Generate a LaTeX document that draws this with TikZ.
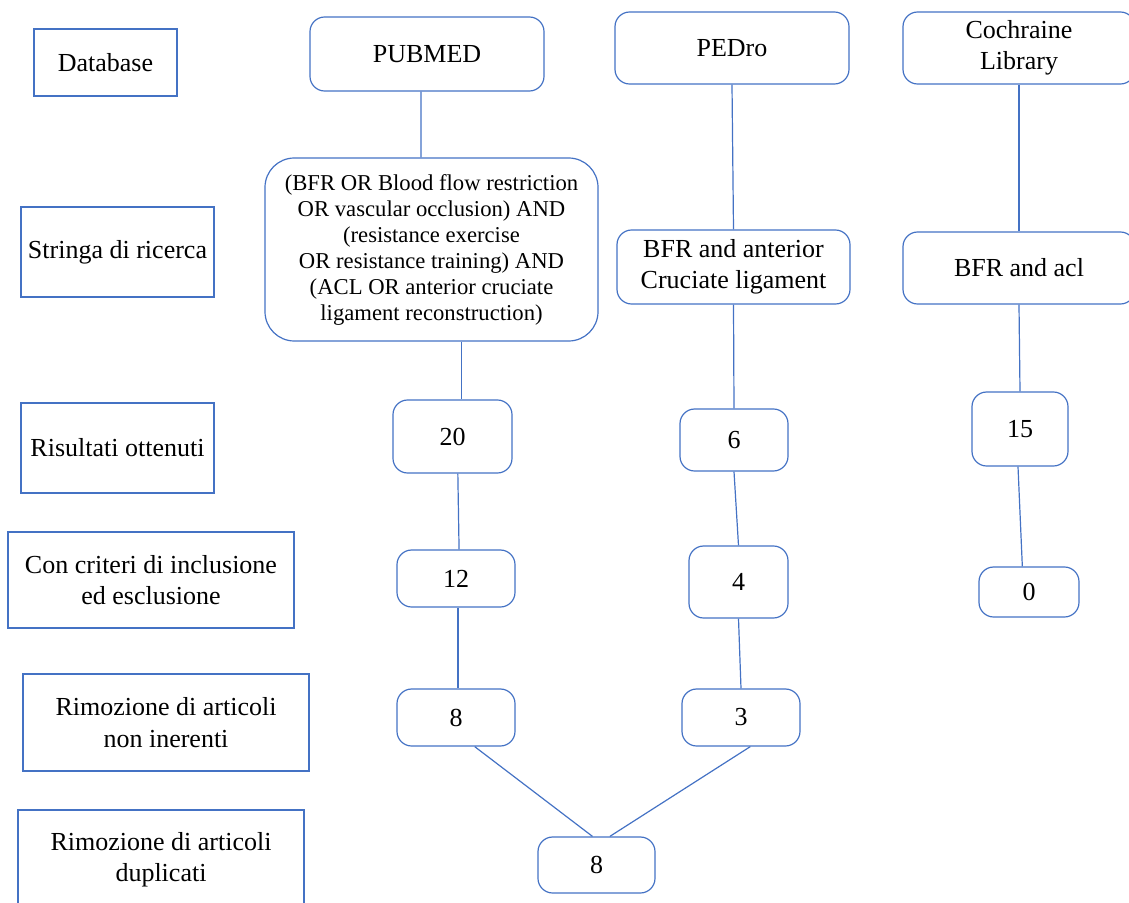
\documentclass[tikz,border=0pt]{standalone}
\usepackage{fontspec}
\setmainfont{Liberation Serif}
\usepackage{tikz}
\definecolor{boxblue}{RGB}{68,114,196}

\begin{document}
\begin{tikzpicture}[x=0.75pt,y=0.75pt,yscale=-1,xscale=1,
        every node/.style={font=\fontsize{19.5}{23.5}\selectfont, text=black, align=center, inner sep=1pt},
        lbl/.style={draw=boxblue, line width=0.9pt},
        rbox/.style={draw=boxblue, line width=0.9pt, rounded corners=11pt},
        sz/.style 2 args={minimum width=#1*0.75pt, minimum height=#2*0.75pt},
        link/.style={draw=boxblue, line width=0.9pt}]
        \clip (0,0) rectangle (1129,903); %page frame
        % Left column: step labels
        \node [lbl, sz={143}{67}] (db) at (105.5,62.5) {Database};
        \node [lbl, sz={193}{90}] (str) at (117.5,252) {Stringa di ricerca};
        \node [lbl, sz={193}{90}] (ris) at (117.5,448) {Risultati ottenuti};
        \node [lbl, sz={286}{96}] (con) at (151,580) {Con criteri di inclusione\\ed esclusione};
        \node [lbl, sz={286}{97}] (rna) at (166,722.5) {Rimozione di articoli\\non inerenti};
        \node [lbl, sz={286}{100}] (rdu) at (161,860) {Rimozione di articoli\\duplicati};
        % Databases
        \node [rbox, sz={234}{74}] (pub) at (427,54) {PUBMED};
        \node [rbox, sz={234}{72}] (ped) at (732,48) {PEDro};
        \node [rbox, sz={232}{72}] (coc) at (1019,48) {Cochraine\\Library};
        % Search strings
        \node [rbox, rounded corners=22pt, sz={333}{183}, font=\fontsize{17}{19.5}\selectfont] (qry) at (431.5,249.5)
            {(BFR OR Blood flow restriction\\OR vascular occlusion) AND\\(resistance exercise\\OR resistance training) AND\\(ACL OR anterior cruciate\\ligament reconstruction)};
        \node [rbox, sz={233}{74}] (bfa) at (733.5,267) {BFR and anterior\\Cruciate ligament};
        \node [rbox, sz={232}{72}] (bac) at (1019,268) {BFR and acl};
        % Counts
        \node [rbox, sz={119}{73}] (n20) at (452.5,436.5) {20};
        \node [rbox, sz={108}{62}] (n6) at (734,440) {6};
        \node [rbox, sz={96}{74}] (n15) at (1020,429) {15};
        \node [rbox, sz={118}{57}] (n12) at (456,578.5) {12};
        \node [rbox, sz={99}{72}] (n4) at (738.5,582) {4};
        \node [rbox, sz={100}{50}] (n0) at (1029,592) {0};
        \node [rbox, sz={118}{57}] (p8) at (456,717.5) {8};
        \node [rbox, sz={118}{57}] (p3) at (741,717.5) {3};
        \node [rbox, sz={117}{56}] (f8) at (596.5,865) {8};
        % Connectors
        \draw [link] ([xshift=-4.5pt]pub.south) -- ([xshift=-7.9pt]qry.north);
        \draw [link] ([xshift=6.5pt]n20.north |- qry.south) -- ([xshift=6.5pt]n20.north);
        \draw [link] ([xshift=4pt]n20.south) -- ([xshift=2.3pt]n12.north);
        \draw [link] ([xshift=1.5pt]n12.south) -- ([xshift=1.5pt]p8.north);
        \draw [link] (ped.south) -- (bfa.north);
        \draw [link] (bfa.south) -- (n6.north);
        \draw [link] (n6.south) -- (n4.north);
        \draw [link] (n4.south) -- (p3.north);
        \draw [link] (coc.south) -- (bac.north);
        \draw [link] (bac.south) -- (n15.north);
        \draw [link] ([xshift=-1.5pt]n15.south) -- ([xshift=-5pt]n0.north);
        \draw [link] ([xshift=14pt]p8.south) -- ([xshift=-3pt]f8.north);
        \draw [link] ([xshift=7pt]p3.south) -- ([xshift=10pt]f8.north);
\end{tikzpicture}
\end{document}
